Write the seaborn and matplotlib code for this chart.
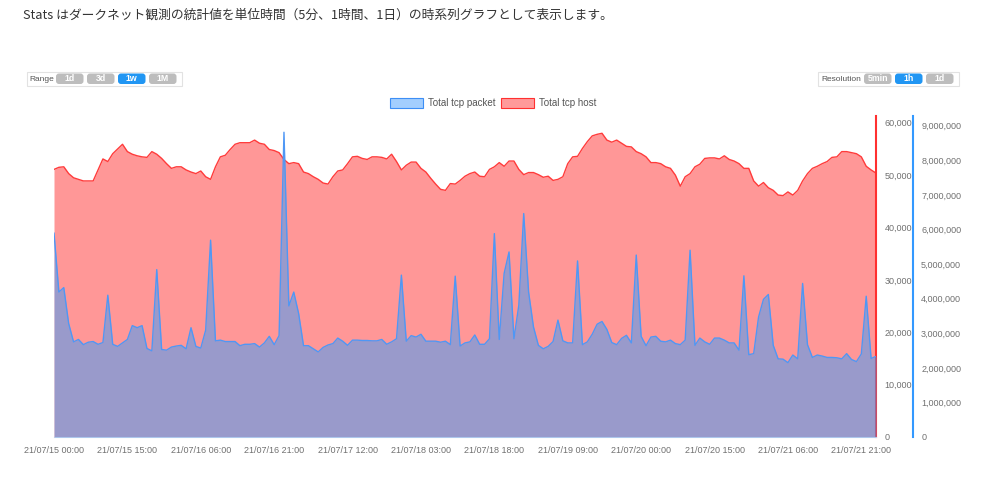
import pandas as pd
import matplotlib
matplotlib.use('Agg')
import matplotlib.pyplot as plt
import matplotlib.ticker as mticker
from matplotlib.patches import FancyBboxPatch, Rectangle
import seaborn as sns

# hourly values, 21/07/15 00:00 .. 21/07/22 00:00
tcp_host = [
    51100, 51500, 51600, 50300, 49500, 49200, 48900, 48900, 48900, 51000,
    53100, 52600, 54100, 55000, 55900, 54500, 54000, 53700, 53500, 53400,
    54500, 54000, 53200, 52200, 51300, 51600, 51600, 51000, 50600, 50300,
    50800, 49700, 49200, 51600, 53500, 53800, 54900, 55900, 56200, 56200,
    56200, 56700, 56100, 55900, 54900, 54700, 54300, 53000, 52200, 52400,
    52200, 50600, 50300, 49700, 49200, 48500, 48300, 49700, 50800, 51000,
    52200, 53500, 53600, 53200, 53000, 53500, 53500, 53400, 53100, 54000,
    52600, 51000, 51900, 52500, 52500, 51300, 50600, 49400, 48300, 47300,
    47100, 48400, 48300, 49000, 49800, 50300, 50600, 49800, 49700, 51100,
    51600, 52400, 51700, 52700, 52700, 51100, 50100, 50500, 50500, 50100,
    49600, 49800, 49000, 49200, 49700, 52200, 53500, 53600, 55100, 56400,
    57500, 57800, 58000, 56700, 56300, 56700, 56100, 55500, 55400, 54500,
    54100, 53500, 52400, 52400, 52200, 51600, 51300, 50000, 47900, 49700,
    50300, 51600, 52100, 53200, 53300, 53300, 53100, 53700, 53000, 52700,
    52200, 51300, 51300, 48900, 47900, 48600, 47600, 47100, 46200, 46100,
    46800, 46200, 47100, 48900, 50300, 51300, 51700, 52200, 52600, 53400,
    53500, 54500, 54500, 54300, 54100, 53500, 51700, 51000, 50400,
]
tcp_packet = [
    5900000, 4190000, 4320000, 3280000, 2750000, 2820000, 2670000, 2740000, 2760000, 2680000,
    2730000, 4100000, 2680000, 2620000, 2720000, 2820000, 3220000, 3160000, 3220000, 2560000,
    2490000, 4840000, 2530000, 2510000, 2600000, 2630000, 2650000, 2550000, 3160000, 2620000,
    2570000, 3090000, 5690000, 2780000, 2800000, 2760000, 2760000, 2760000, 2640000, 2680000,
    2680000, 2700000, 2600000, 2720000, 2910000, 2670000, 2930000, 8810000, 3790000, 4190000,
    3570000, 2640000, 2640000, 2550000, 2460000, 2590000, 2660000, 2700000, 2860000, 2770000,
    2650000, 2800000, 2800000, 2790000, 2790000, 2780000, 2780000, 2820000, 2680000, 2750000,
    2840000, 4680000, 2770000, 2930000, 2890000, 2970000, 2770000, 2770000, 2770000, 2740000,
    2770000, 2670000, 4650000, 2630000, 2720000, 2750000, 2950000, 2680000, 2680000, 2840000,
    5880000, 2820000, 4730000, 5350000, 2840000, 3810000, 6460000, 4190000, 3180000, 2650000,
    2550000, 2620000, 2760000, 3380000, 2780000, 2720000, 2720000, 5090000, 2670000, 2750000,
    2970000, 3260000, 3340000, 3110000, 2730000, 2670000, 2850000, 2940000, 2720000, 5260000,
    2910000, 2640000, 2890000, 2910000, 2770000, 2750000, 2800000, 2700000, 2670000, 2800000,
    5400000, 2650000, 2860000, 2750000, 2680000, 2860000, 2860000, 2800000, 2720000, 2720000,
    2510000, 4660000, 2380000, 2410000, 3470000, 3980000, 4120000, 2650000, 2260000, 2250000,
    2150000, 2370000, 2260000, 4440000, 2670000, 2300000, 2370000, 2340000, 2300000, 2300000,
    2290000, 2260000, 2410000, 2240000, 2180000, 2400000, 4070000, 2270000, 2330000,
]
title = "Stats はダークネット観測の統計値を単位時間（5分、1時間、1日）の時系列グラフとして表示します。"
range_buttons = ["1d", "3d", "1w", "1M"]
resolution_buttons = ["5min", "1h", "1d"]

times = pd.date_range("2021-07-15 00:00", periods=len(tcp_host), freq="h")
df = pd.DataFrame({"time": times, "host": tcp_host, "packet": tcp_packet})

sns.set_style("white")
plt.rcParams["font.family"] = ["Liberation Sans", "Noto Sans CJK JP", "DejaVu Sans"]

fig = plt.figure(figsize=(9.85, 5.03), dpi=100)
ax = fig.add_axes([54 / 985, 1 - 437 / 503, (876 - 54) / 985, (437 - 116) / 503])
ax2 = ax.twinx()

red_line = "#ff3b3b"
blue_line = "#4f97f5"

ax.fill_between(df["time"], df["host"], color="#ff9797", lw=0, zorder=1)
sns.lineplot(data=df, x="time", y="host", ax=ax, color=red_line, lw=1, zorder=2)
ax2.fill_between(df["time"], df["packet"], color="#359dff", alpha=0.5, lw=0, zorder=1)
sns.lineplot(data=df, x="time", y="packet", ax=ax2, color=blue_line, lw=1, zorder=2)

gray = "#707070"
ax.set_xlim(times[0], times[-1])
ax.set_ylim(0, 61300)
ax2.set_ylim(0, 9280000)
ax.yaxis.tick_right()
ax.yaxis.set_label_position("right")
ax.set_yticks(range(0, 60001, 10000))
ax2.set_yticks(range(0, 9000001, 1000000))
fmt = mticker.FuncFormatter(lambda v, p: f"{int(v):,}")
ax.yaxis.set_major_formatter(fmt)
ax2.yaxis.set_major_formatter(fmt)
ax.set_xticks(times[::15])
ax.set_xticklabels([t.strftime("%y/%m/%d %H:%M") for t in times[::15]])
ax.tick_params(axis="x", length=0, pad=6.5, labelsize=6.5, colors=gray)
ax.tick_params(axis="y", length=0, pad=6, labelsize=6.5, colors=gray)
ax2.tick_params(axis="y", length=0, pad=6, labelsize=6.5, colors=gray)
ax.set_xlabel("")
ax.set_ylabel("")
ax2.set_ylabel("")

for a in (ax, ax2):
    a.spines["left"].set_visible(False)
    a.spines["top"].set_visible(False)
    a.spines["bottom"].set_visible(False)
ax.spines["bottom"].set_visible(True)
ax.spines["bottom"].set_color("#d6d6e6")
ax.spines["right"].set_color("#ff3030")
ax.spines["right"].set_linewidth(1.5)
ax2.spines["right"].set_position(("outward", 26.5))
ax2.spines["right"].set_color("#3399ff")
ax2.spines["right"].set_linewidth(1.5)
ax.grid(False)
ax2.grid(False)

# overlay in pixel coordinates for the page furniture
ov = fig.add_axes([0, 0, 1, 1], zorder=-1)
ov.set_xlim(0, 985)
ov.set_ylim(503, 0)
ov.axis("off")

fig.text(23 / 985, 1 - 15 / 503, title, fontsize=9.2, color="#333333", va="center",
         family=["Noto Sans CJK JP", "DejaVu Sans"])


def button_box(x0, x1, label, names, starts, active):
    ov.add_patch(Rectangle((x0, 71.5), x1 - x0, 14.5, fc="white", ec="#e2e2e2", lw=0.8))
    ov.text(x0 + 3, 79.2, label, fontsize=6.0, color="#555555", va="center")
    for name, bx in zip(names, starts):
        c = "#2196f3" if name == active else "#bdbdbd"
        ov.add_patch(FancyBboxPatch((bx, 73.5), 27.5, 10.5, boxstyle="round,pad=0,rounding_size=3",
                                    fc=c, ec="none"))
        ov.text(bx + 13.75, 78.4, name, fontsize=6.3, color="white", ha="center", va="center",
                fontweight="bold")


button_box(26.5, 182, "Range", range_buttons, [56, 87, 118, 149], "1w")
button_box(818, 959, "Resolution", resolution_buttons, [864, 895, 926], "1h")

# legend
ov.add_patch(Rectangle((389.5, 98), 33, 10, fc="#a3cefe", ec="#3d8ef5", lw=0.8))
ov.text(428, 103, "Total tcp packet", fontsize=7, color="#555555", va="center")
ov.add_patch(Rectangle((501, 98), 33, 10, fc="#ff9a9a", ec="#ff3030", lw=0.8))
ov.text(539, 103, "Total tcp host", fontsize=7, color="#555555", va="center")

fig.savefig("out.png", dpi=100)
